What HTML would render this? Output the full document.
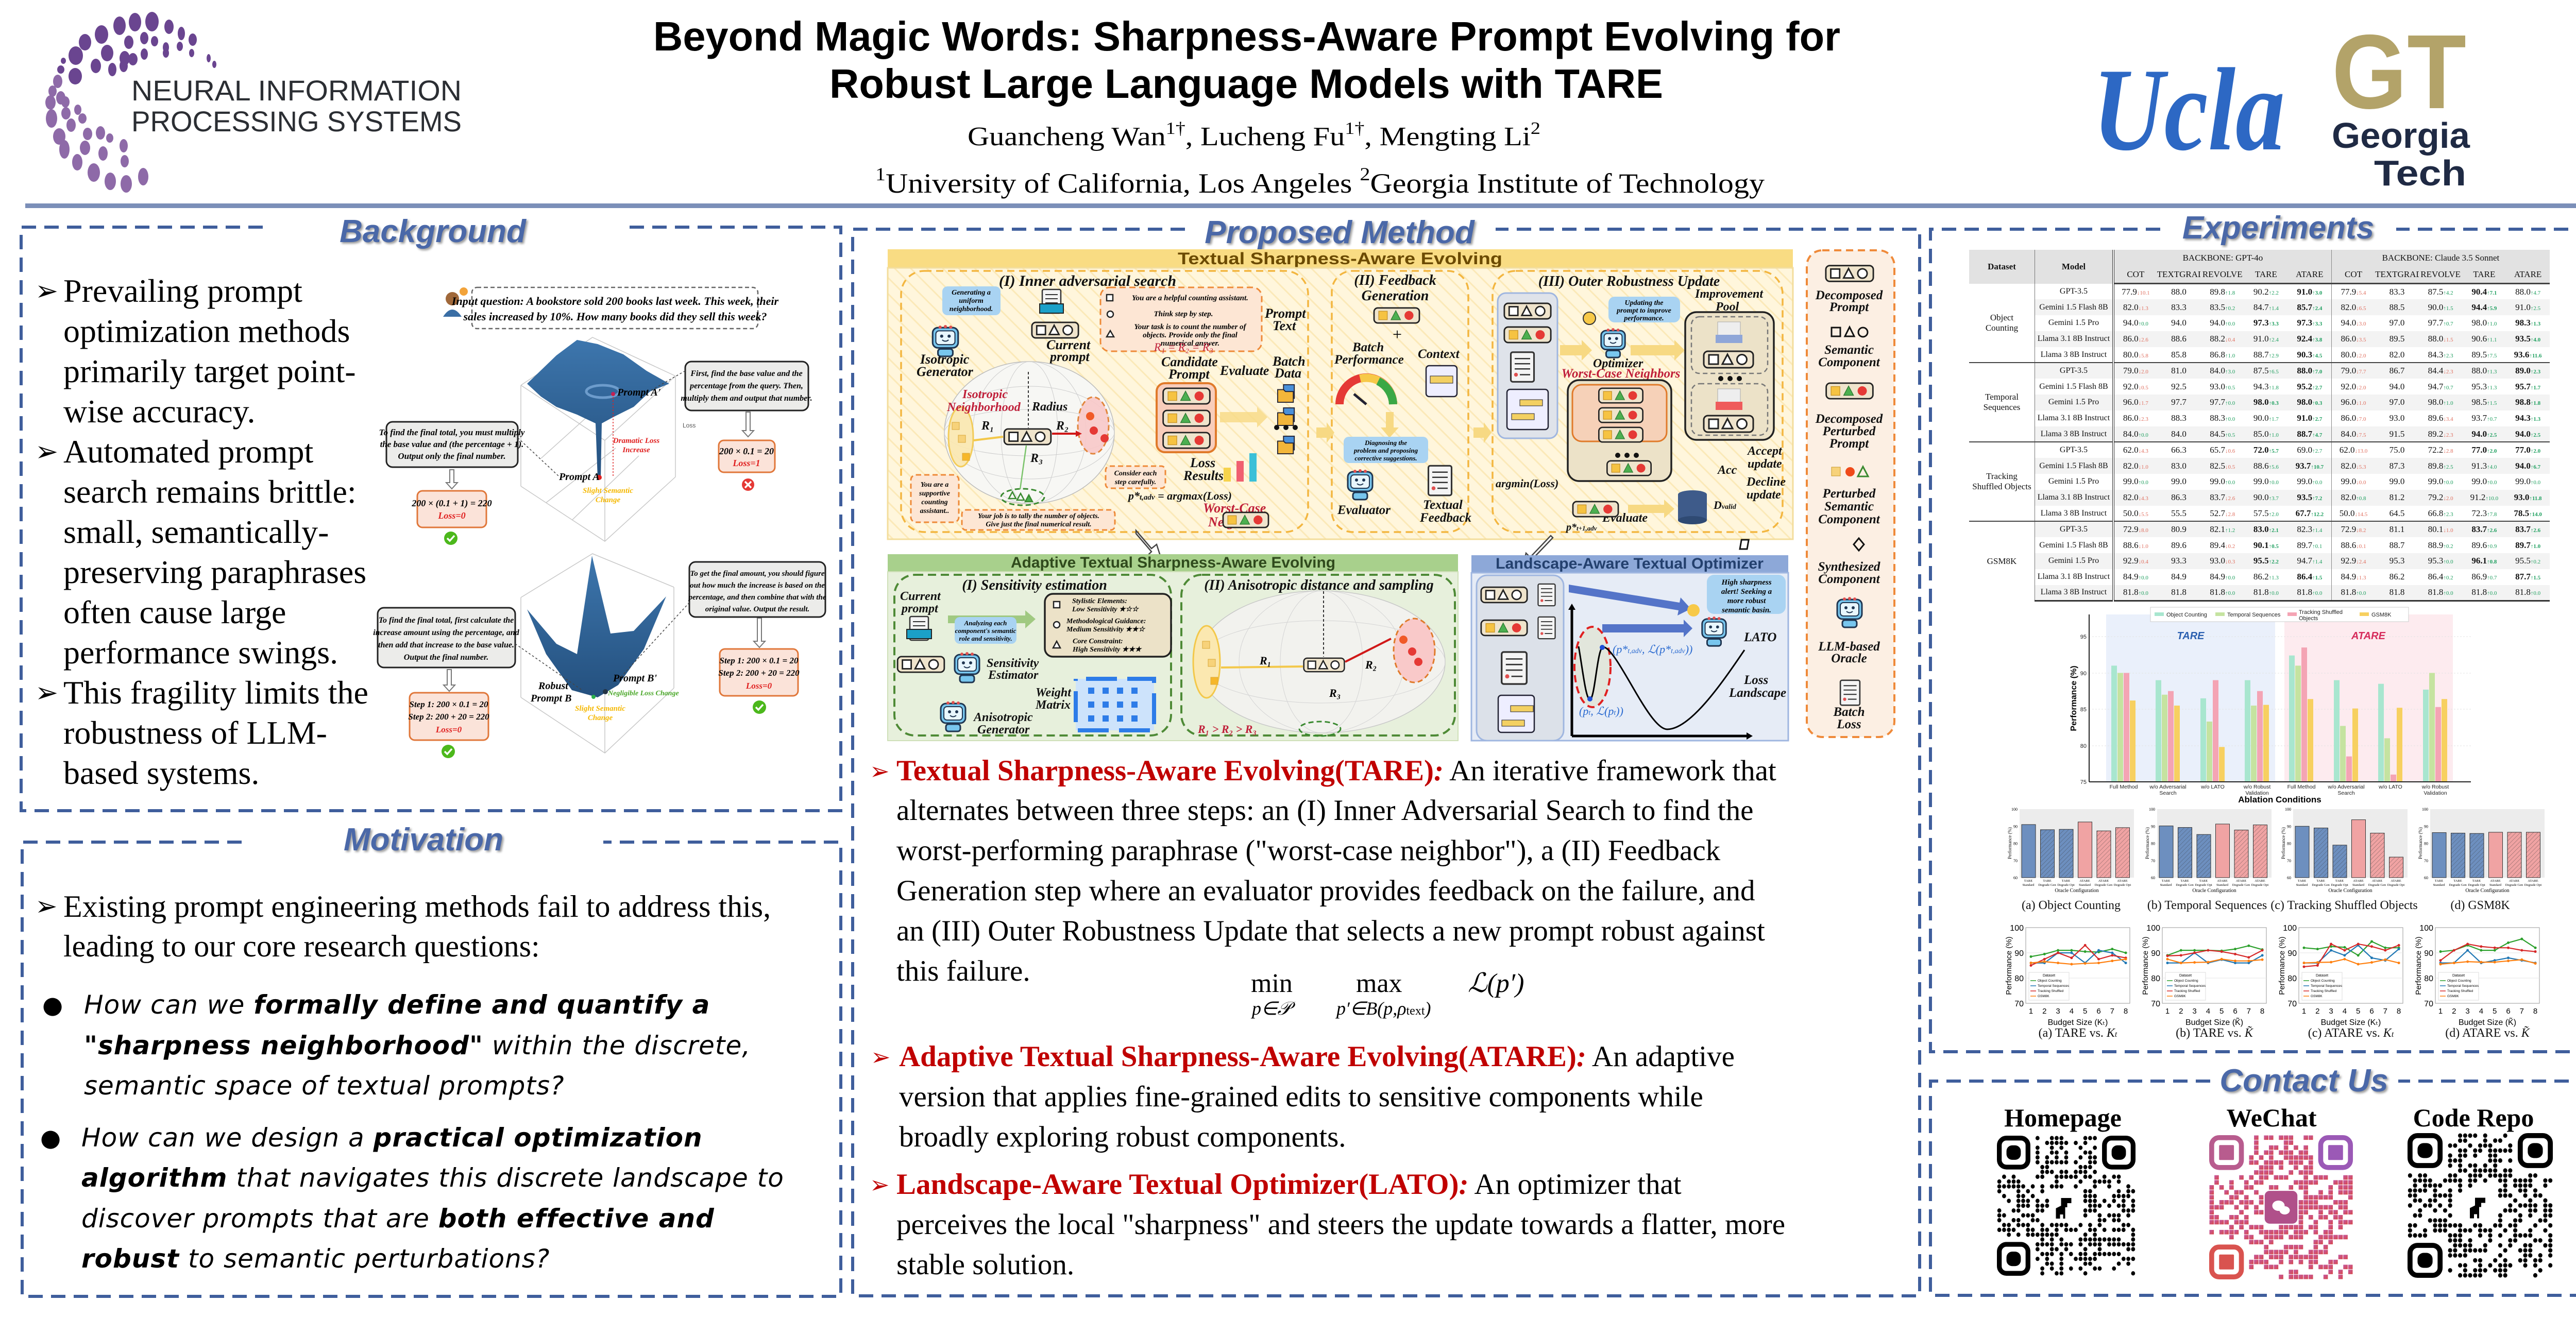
<!DOCTYPE html>
<html><head><meta charset="utf-8">
<style>
html,body{margin:0;padding:0;background:#fff;}
body{width:5120px;height:2559px;position:relative;overflow:hidden;font-family:"Liberation Serif",serif;}
.a{position:absolute;white-space:nowrap;}
.ln{position:absolute;white-space:nowrap;height:78px;line-height:78px;}
.bg{font-family:"Liberation Serif",serif;font-size:64px;color:#000;}
.mo{font-family:"Liberation Serif",serif;font-size:60px;color:#000;}
.q{font-family:"DejaVu Sans",sans-serif;font-style:italic;font-size:50px;letter-spacing:1px;color:#000;}
.q b{font-weight:bold;}
.me{font-family:"Liberation Serif",serif;font-size:57px;color:#000;}
.red{color:#c00000;font-weight:bold;}
.arr{font-family:"DejaVu Sans",sans-serif;}
table.t{position:absolute;left:3822px;top:485px;width:1127px;border-collapse:collapse;table-layout:fixed;font-family:"Liberation Serif",serif;font-size:17px;color:#111;}
table.t td,table.t th{padding:0;text-align:center;white-space:nowrap;overflow:hidden;}
table.t thead th{background:#e2e2e2;font-weight:normal;height:32px;font-size:17px;}
table.t thead tr:last-child th{border-bottom:3px solid #444;}
table.t tbody tr{height:30.8px;}
table.t tbody tr:nth-child(even) td.v,table.t tbody tr:nth-child(even) td.m{background:#f3f3f3;}
table.t td.m{font-size:16px;border-right:4px double #333;}
table.t td.ds{font-size:17px;line-height:20px;border-right:1px solid #777;}
table.t tr.g td{border-top:2px solid #444;}
table.t tr.last td{border-bottom:3px solid #333;}
table.t .c1{border-left:1px solid #888;}
i.d{font-style:normal;font-size:11px;color:#e07060;}
i.u{font-style:normal;font-size:11px;color:#20a060;}
.b{font-weight:bold;}
</style></head>
<body>
<svg class="a" style="left:0;top:0" width="5120" height="2559" viewBox="0 0 5120 2559" xmlns="http://www.w3.org/2000/svg">
<defs>
 <symbol id="pb" viewBox="0 0 100 36"><rect x="2" y="2" width="96" height="32" rx="8" fill="#efe4cc" stroke="#222" stroke-width="3"/><rect x="12" y="9" width="18" height="18" fill="#fff" stroke="#222" stroke-width="3"/><polygon points="48,8 58,27 38,27" fill="#fff" stroke="#222" stroke-width="3"/><circle cx="76" cy="18" r="9.5" fill="#fff" stroke="#222" stroke-width="3"/></symbol>
 <symbol id="pc" viewBox="0 0 100 36"><rect x="2" y="2" width="96" height="32" rx="8" fill="#efe4cc" stroke="#222" stroke-width="3"/><rect x="12" y="9" width="18" height="18" fill="#f6c342" stroke="#c9962a" stroke-width="1.5"/><polygon points="48,8 58,27 38,27" fill="#4caf50" stroke="#2e7d32" stroke-width="1.5"/><circle cx="76" cy="18" r="9.5" fill="#e53935"/></symbol>
 <symbol id="rb" viewBox="0 0 60 64"><rect x="6" y="6" width="48" height="38" rx="10" fill="#78c6ee" stroke="#1f3550" stroke-width="3"/><rect x="12" y="12" width="36" height="26" rx="6" fill="#e8f6fd" stroke="#1f3550" stroke-width="2"/><circle cx="23" cy="22" r="3" fill="#1f3550"/><circle cx="37" cy="22" r="3" fill="#1f3550"/><path d="M24 29 q6 5 12 0" stroke="#1f3550" stroke-width="2" fill="none"/><rect x="16" y="46" width="28" height="14" rx="5" fill="#78c6ee" stroke="#1f3550" stroke-width="3"/><circle cx="20" cy="5" r="3" fill="#e05050"/><circle cx="30" cy="4" r="3" fill="#e05050"/><circle cx="40" cy="5" r="3" fill="#e05050"/></symbol>
 <symbol id="doc" viewBox="0 0 40 50"><rect x="2" y="2" width="36" height="46" rx="3" fill="#f4f4f4" stroke="#333" stroke-width="2.5"/><line x1="8" y1="12" x2="32" y2="12" stroke="#333" stroke-width="2"/><line x1="8" y1="20" x2="32" y2="20" stroke="#333" stroke-width="2"/><line x1="8" y1="28" x2="32" y2="28" stroke="#333" stroke-width="2"/><circle cx="10" cy="37" r="3" fill="#e05050"/><line x1="16" y1="37" x2="32" y2="37" stroke="#333" stroke-width="2"/></symbol>
 <symbol id="fold" viewBox="0 0 40 40"><rect x="14" y="2" width="22" height="28" fill="#4a90d9" stroke="#223" stroke-width="2"/><path d="M2 12 h12 l4 4 h16 v22 h-32 z" fill="#f3b63a" stroke="#223" stroke-width="2"/></symbol>
 <pattern id="hat" width="6" height="6" patternUnits="userSpaceOnUse" patternTransform="rotate(45)"><line x1="0" y1="0" x2="0" y2="6" stroke="#333" stroke-width="1"/></pattern>
 <pattern id="str" width="22" height="22" patternUnits="userSpaceOnUse" patternTransform="rotate(-45)"><rect width="22" height="22" fill="#fff6dc"/><line x1="0" y1="0" x2="0" y2="22" stroke="#fbe9b8" stroke-width="6"/></pattern>
 <linearGradient id="surf" x1="0" y1="0" x2="0" y2="1"><stop offset="0" stop-color="#3d76ad"/><stop offset="1" stop-color="#24507e"/></linearGradient>
 <linearGradient id="wg" x1="0" y1="0" x2="1" y2="1"><stop offset="0" stop-color="#c35aa6"/><stop offset="1" stop-color="#d94848"/></linearGradient>
</defs>

<!-- NeurIPS logo dots -->
<g fill="#6a4590">
 <ellipse cx="262" cy="43" rx="12" ry="18"/><ellipse cx="295" cy="42" rx="13" ry="19"/><ellipse cx="328" cy="52" rx="9" ry="14"/><ellipse cx="352" cy="65" rx="7" ry="13"/><ellipse cx="374" cy="77" rx="8" ry="12"/>
 <ellipse cx="232" cy="50" rx="12" ry="18"/><ellipse cx="197" cy="67" rx="13" ry="18"/><ellipse cx="165" cy="82" rx="12" ry="16"/><ellipse cx="147" cy="108" rx="14" ry="18"/>
 <ellipse cx="250" cy="82" rx="9" ry="13"/><ellipse cx="280" cy="74" rx="8" ry="12"/><ellipse cx="300" cy="80" rx="7" ry="10"/><ellipse cx="322" cy="92" rx="6" ry="10"/><ellipse cx="349" cy="90" rx="6" ry="9"/>
 <ellipse cx="208" cy="103" rx="12" ry="16"/><ellipse cx="242" cy="113" rx="10" ry="14"/><ellipse cx="258" cy="115" rx="9" ry="12"/><ellipse cx="280" cy="105" rx="7" ry="11"/><ellipse cx="322" cy="103" rx="6" ry="9"/><ellipse cx="372" cy="103" rx="5" ry="8"/><ellipse cx="405" cy="113" rx="4" ry="8"/><ellipse cx="416" cy="125" rx="4" ry="7"/>
 <ellipse cx="186" cy="128" rx="10" ry="14"/><ellipse cx="218" cy="135" rx="8" ry="13"/><ellipse cx="240" cy="128" rx="8" ry="12"/><ellipse cx="146" cy="148" rx="13" ry="16"/><ellipse cx="123" cy="118" rx="5" ry="6"/><ellipse cx="118" cy="135" rx="7" ry="8"/>
</g>
<g fill="#8e6aa8">
 <ellipse cx="112" cy="158" rx="9" ry="13"/><ellipse cx="102" cy="177" rx="8" ry="11"/><ellipse cx="118" cy="190" rx="9" ry="13"/><ellipse cx="98" cy="199" rx="10" ry="14"/><ellipse cx="127" cy="198" rx="8" ry="11"/>
 <ellipse cx="100" cy="230" rx="11" ry="18"/><ellipse cx="128" cy="220" rx="9" ry="12"/><ellipse cx="151" cy="213" rx="7" ry="10"/><ellipse cx="160" cy="230" rx="8" ry="10"/><ellipse cx="138" cy="243" rx="9" ry="13"/>
 <ellipse cx="115" cy="265" rx="12" ry="16"/><ellipse cx="170" cy="260" rx="9" ry="12"/><ellipse cx="195" cy="258" rx="9" ry="13"/><ellipse cx="213" cy="268" rx="7" ry="9"/>
 <ellipse cx="125" cy="290" rx="10" ry="18"/><ellipse cx="165" cy="287" rx="10" ry="14"/><ellipse cx="200" cy="298" rx="9" ry="14"/><ellipse cx="240" cy="283" rx="8" ry="13"/><ellipse cx="242" cy="313" rx="8" ry="12"/>
 <ellipse cx="150" cy="315" rx="10" ry="16"/><ellipse cx="182" cy="335" rx="12" ry="18"/><ellipse cx="214" cy="352" rx="11" ry="17"/><ellipse cx="245" cy="357" rx="11" ry="17"/><ellipse cx="278" cy="343" rx="10" ry="17"/>
</g>
<text x="255" y="195" font-family="Liberation Sans,sans-serif" font-size="56" fill="#2b2e33" textLength="641" lengthAdjust="spacingAndGlyphs">NEURAL INFORMATION</text>
<text x="255" y="255" font-family="Liberation Sans,sans-serif" font-size="56" fill="#2b2e33" textLength="641" lengthAdjust="spacingAndGlyphs">PROCESSING SYSTEMS</text>

<!-- Title -->
<text x="2420" y="98" text-anchor="middle" font-family="Liberation Sans,sans-serif" font-weight="bold" font-size="80" textLength="2304" lengthAdjust="spacingAndGlyphs">Beyond Magic Words: Sharpness-Aware Prompt Evolving for</text>
<text x="2419" y="190" text-anchor="middle" font-family="Liberation Sans,sans-serif" font-weight="bold" font-size="80" textLength="1618" lengthAdjust="spacingAndGlyphs">Robust Large Language Models with TARE</text>
<text x="2434" y="282" text-anchor="middle" font-family="Liberation Serif,serif" font-size="52" textLength="1112" lengthAdjust="spacingAndGlyphs">Guancheng Wan<tspan font-size="34" dy="-22">1†</tspan><tspan dy="22">,  Lucheng Fu</tspan><tspan font-size="34" dy="-22">1†</tspan><tspan dy="22">, Mengting Li</tspan><tspan font-size="34" dy="-22">2</tspan></text>
<text x="2562" y="374" text-anchor="middle" font-family="Liberation Serif,serif" font-size="54" textLength="1726" lengthAdjust="spacingAndGlyphs"><tspan font-size="36" dy="-24">1</tspan><tspan dy="24">University of California, Los Angeles     </tspan><tspan font-size="36" dy="-24">2</tspan><tspan dy="24">Georgia Institute of Technology</tspan></text>

<!-- UCLA / GT -->
<text x="4062" y="290" font-family="Liberation Serif,serif" font-style="italic" font-weight="bold" font-size="230" fill="#2d68c4" textLength="373" lengthAdjust="spacingAndGlyphs">Ucla</text>
<text x="4526" y="210" font-family="Liberation Sans,sans-serif" font-weight="bold" font-size="205" fill="#b3a369" textLength="261" lengthAdjust="spacingAndGlyphs">GT</text>
<text x="4526" y="287" font-family="Liberation Sans,sans-serif" font-weight="bold" font-size="70" fill="#1f2a44" textLength="268" lengthAdjust="spacingAndGlyphs">Georgia</text>
<text x="4608" y="360" font-family="Liberation Sans,sans-serif" font-weight="bold" font-size="70" fill="#1f2a44" textLength="179" lengthAdjust="spacingAndGlyphs">Tech</text>

<!-- blue rule -->
<rect x="49" y="395" width="5060" height="9" fill="#7b8fb8"/>

<!-- Section boxes -->
<g fill="none" stroke="#3f5e9c" stroke-width="6" stroke-dasharray="28 16">
 <path d="M510 441 H41 V1574 H1632 V441 H1215"/>
 <path d="M469 1635 H43 V2517 H1632 V1635 H1171"/>
 <path d="M2300 445 H1655 V2516 H3726 V445 H2903"/>
 <path d="M4193 445 H3747 V2042 H5076 V445 H4651"/>
 <path d="M4290 2099 H3747 V2515 H5087 V2099 H4655"/>
</g>
<g font-family="Liberation Sans,sans-serif" font-weight="bold" font-style="italic" font-size="62" fill="#4a68a8" text-anchor="middle" style="text-shadow:3px 3px 4px rgba(0,0,0,.4)">
 <text x="840" y="470">Background</text>
 <text x="822" y="1651">Motivation</text>
 <text x="2600" y="472">Proposed Method</text>
 <text x="4422" y="463">Experiments</text>
 <text x="4472" y="2119">Contact Us</text>
</g>

<!-- ========== Background figure ========== -->
<g font-family="Liberation Serif,serif" font-style="italic" font-weight="bold">
 <circle cx="878" cy="580" r="13" fill="#a0683a"/><path d="M860 615 q18 -28 36 0 z" fill="#3a6ea5"/><circle cx="900" cy="566" r="8" fill="#f2a33a"/>
 <rect x="916" y="558" width="555" height="80" rx="10" fill="#fff" stroke="#666" stroke-width="2.5" stroke-dasharray="8 5"/>
 <text x="1194" y="592" text-anchor="middle" font-size="22">Input question: A bookstore sold 200 books last week. This week, their</text>
 <text x="1194" y="622" text-anchor="middle" font-size="22">sales increased by 10%. How many books did they sell this week?</text>
 <g stroke="#c8c8c8" stroke-width="1.5" fill="none">
  <path d="M1011 944 L1174 1051 L1311 926 M1011 944 V748 M1174 1051 V855 M1311 926 V730 M1011 748 L1174 855 L1311 730 M1011 748 L1150 655 L1311 730"/>
  <path d="M1060 976 L1195 870 M1110 1010 L1240 885 M1050 890 L1150 800"/>
 </g>
 <path d="M1023 745 L1080 690 L1120 660 L1160 668 L1210 688 L1255 720 L1299 745 L1262 760 L1230 790 L1190 810 L1168 822 L1166 929 L1160 929 L1156 822 L1120 805 L1080 790 L1050 770 Z" fill="url(#surf)"/>
 <ellipse cx="1170" cy="760" rx="32" ry="12" fill="none" stroke="#6d9ccc" stroke-width="5"/>
 <circle cx="1163" cy="927" r="5" fill="#e02020"/><circle cx="1190" cy="765" r="4" fill="#c0205a"/>
 <line x1="1190" y1="765" x2="1190" y2="927" stroke="#e02020" stroke-width="1.5" stroke-dasharray="3 3"/>
 <text x="1198" y="768" font-size="20">Prompt A'</text>
 <text x="1085" y="932" font-size="20">Prompt A</text>
 <text x="1235" y="860" font-size="15" fill="#e02020" text-anchor="middle">Dramatic Loss</text>
 <text x="1235" y="878" font-size="15" fill="#e02020" text-anchor="middle">Increase</text>
 <text x="1180" y="957" font-size="15" fill="#f5b800" text-anchor="middle">Slight Semantic</text>
 <text x="1180" y="975" font-size="15" fill="#f5b800" text-anchor="middle">Change</text>
 <text x="1325" y="830" font-size="12" font-weight="normal" font-style="normal" font-family="Liberation Sans,sans-serif" fill="#555">Loss</text>
 <rect x="750" y="819" width="255" height="88" rx="12" fill="#ececea" stroke="#222" stroke-width="3"/>
 <text x="877" y="845" text-anchor="middle" font-size="17">To find the final total, you must multiply</text>
 <text x="877" y="868" text-anchor="middle" font-size="17">the base value and (the percentage + 1).</text>
 <text x="877" y="891" text-anchor="middle" font-size="17">Output only the final number.</text>
 <rect x="810" y="953" width="134" height="71" rx="10" fill="#fbe3d9" stroke="#e0773a" stroke-width="3"/>
 <text x="877" y="983" text-anchor="middle" font-size="18">200 × (0.1 + 1) = 220</text>
 <text x="877" y="1007" text-anchor="middle" font-size="18" fill="#e02020">Loss=0</text>
 <circle cx="875" cy="1045" r="13" fill="#4cb81c"/><path d="M868 1045 l5 5 l9 -10" stroke="#fff" stroke-width="3.5" fill="none"/>
 <rect x="1330" y="702" width="239" height="95" rx="12" fill="#ececea" stroke="#222" stroke-width="3"/>
 <text x="1449" y="730" text-anchor="middle" font-size="16">First, find the base value and the</text>
 <text x="1449" y="754" text-anchor="middle" font-size="16">percentage from the query. Then,</text>
 <text x="1449" y="778" text-anchor="middle" font-size="16">multiply them and output that number.</text>
 <rect x="1395" y="855" width="109" height="62" rx="10" fill="#fbe3d9" stroke="#e0773a" stroke-width="3"/>
 <text x="1449" y="882" text-anchor="middle" font-size="18">200 × 0.1 = 20</text>
 <text x="1449" y="905" text-anchor="middle" font-size="18" fill="#e02020">Loss=1</text>
 <circle cx="1452" cy="941" r="12" fill="#e53935"/><path d="M1446 935 l12 12 M1458 935 l-12 12" stroke="#fff" stroke-width="3.5"/>
 <g stroke="#777" stroke-width="2" fill="#fff"><path d="M873 912 v25 h-7 l11 12 l11 -12 h-7 v-25z"/><path d="M1448 800 v36 h-7 l11 12 l11 -12 h-7 v-36z"/><path d="M868 1300 v30 h-7 l11 12 l11 -12 h-7 v-30z"/><path d="M1470 1200 v45 h-7 l11 12 l11 -12 h-7 v-45z"/></g>
 <g stroke="#c8c8c8" stroke-width="1.5" fill="none">
  <path d="M1011 1354 L1174 1462 L1308 1336 M1011 1354 V1160 M1174 1462 V1260 M1308 1336 V1140 M1011 1160 L1150 1075 L1308 1140"/>
 </g>
 <path d="M1023 1183 L1080 1250 L1120 1270 L1149 1079 L1185 1230 L1230 1225 L1293 1158 L1250 1260 L1200 1330 L1160 1354 L1110 1340 L1060 1270 Z" fill="url(#surf)"/>
 <circle cx="1152" cy="1353" r="4" fill="#2ab04a"/><circle cx="1175" cy="1343" r="5" fill="#234"/>
 <text x="1045" y="1338" font-size="20">Robust</text>
 <text x="1030" y="1362" font-size="20">Prompt B</text>
 <text x="1190" y="1323" font-size="20">Prompt B'</text>
 <text x="1180" y="1350" font-size="14" fill="#4ba82a">Negligible Loss Change</text>
 <text x="1165" y="1380" font-size="15" fill="#f5b800" text-anchor="middle">Slight Semantic</text>
 <text x="1165" y="1398" font-size="15" fill="#f5b800" text-anchor="middle">Change</text>
 <rect x="733" y="1180" width="267" height="116" rx="12" fill="#ececea" stroke="#222" stroke-width="3"/>
 <text x="866" y="1209" text-anchor="middle" font-size="16">To find the final total, first calculate the</text>
 <text x="866" y="1233" text-anchor="middle" font-size="16">increase amount using the percentage, and</text>
 <text x="866" y="1257" text-anchor="middle" font-size="16">then add that increase to the base value.</text>
 <text x="866" y="1281" text-anchor="middle" font-size="16">Output the final number.</text>
 <rect x="795" y="1345" width="153" height="92" rx="10" fill="#fbe3d9" stroke="#e0773a" stroke-width="3"/>
 <text x="871" y="1373" text-anchor="middle" font-size="17">Step 1: 200 × 0.1 = 20</text>
 <text x="871" y="1397" text-anchor="middle" font-size="17">Step 2: 200 + 20 = 220</text>
 <text x="871" y="1422" text-anchor="middle" font-size="17" fill="#e02020">Loss=0</text>
 <circle cx="870" cy="1459" r="13" fill="#4cb81c"/><path d="M863 1459 l5 5 l9 -10" stroke="#fff" stroke-width="3.5" fill="none"/>
 <rect x="1338" y="1091" width="264" height="107" rx="12" fill="#ececea" stroke="#222" stroke-width="3"/>
 <text x="1470" y="1118" text-anchor="middle" font-size="15">To get the final amount, you should figure</text>
 <text x="1470" y="1141" text-anchor="middle" font-size="15">out how much the increase is based on the</text>
 <text x="1470" y="1164" text-anchor="middle" font-size="15">percentage, and then combine that with the</text>
 <text x="1470" y="1187" text-anchor="middle" font-size="15">original value. Output the result.</text>
 <rect x="1397" y="1260" width="152" height="91" rx="10" fill="#fbe3d9" stroke="#e0773a" stroke-width="3"/>
 <text x="1473" y="1288" text-anchor="middle" font-size="17">Step 1: 200 × 0.1 = 20</text>
 <text x="1473" y="1312" text-anchor="middle" font-size="17">Step 2: 200 + 20 = 220</text>
 <text x="1473" y="1337" text-anchor="middle" font-size="17" fill="#e02020">Loss=0</text>
 <circle cx="1474" cy="1373" r="13" fill="#4cb81c"/><path d="M1467 1373 l5 5 l9 -10" stroke="#fff" stroke-width="3.5" fill="none"/>
 <g stroke="#444" stroke-width="1.5" stroke-dasharray="4 4"><line x1="1005" y1="850" x2="1085" y2="925"/><line x1="1330" y1="720" x2="1260" y2="760"/><line x1="1000" y1="1250" x2="1130" y2="1340"/><line x1="1338" y1="1170" x2="1200" y2="1320"/></g>
</g>

<!-- ========== Method figure ========== -->
<rect x="1723" y="484" width="1757" height="36" fill="#f9dc83"/>
<text x="2601" y="513" text-anchor="middle" font-family="Liberation Sans,sans-serif" font-weight="bold" font-size="32" fill="#6b4a00" textLength="630" lengthAdjust="spacingAndGlyphs">Textual Sharpness-Aware Evolving</text>
<rect x="1723" y="520" width="1757" height="527" fill="url(#str)" stroke="#f3dd9c" stroke-width="3"/>
<g fill="none" stroke="#f3b640" stroke-width="3.5" stroke-dasharray="14 9">
 <rect x="1749" y="526" width="790" height="507" rx="45"/>
 <rect x="2585" y="526" width="265" height="507" rx="40"/>
 <rect x="2897" y="526" width="563" height="507" rx="45"/>
</g>
<g font-family="Liberation Serif,serif" font-style="italic" font-weight="bold" fill="#111">
 <text x="2111" y="555" text-anchor="middle" font-size="30">(I) Inner adversarial search</text>
 <text x="2708" y="553" text-anchor="middle" font-size="28">(II) Feedback</text>
 <text x="2708" y="583" text-anchor="middle" font-size="28">Generation</text>
 <text x="3162" y="555" text-anchor="middle" font-size="28">(III) Outer Robustness Update</text>
</g>
<rect x="1829" y="556" width="113" height="56" rx="10" fill="#a9d3f2"/>
<g font-family="Liberation Serif,serif" font-style="italic" font-weight="bold" font-size="14" text-anchor="middle"><text x="1885" y="572">Generating a</text><text x="1885" y="588">uniform</text><text x="1885" y="604">neighborhood.</text></g>
<use href="#rb" x="1800" y="630" width="70" height="66"/>
<use href="#doc" x="2020" y="560" width="42" height="50"/><rect x="2018" y="590" width="46" height="18" fill="#1ba0c8" stroke="#222" stroke-width="2"/>
<use href="#pb" x="2001" y="624" width="94" height="34"/>
<rect x="2136" y="558" width="313" height="124" rx="18" fill="#fde6d4" stroke="#ee8a38" stroke-width="3" stroke-dasharray="12 7"/>
<g font-family="Liberation Serif,serif" font-style="italic" font-weight="bold" font-size="15" text-anchor="middle"><text x="2310" y="583">You are a helpful counting assistant.</text><text x="2297" y="614">Think step by step.</text><text x="2310" y="639">Your task is to count the number of</text><text x="2310" y="655">objects. Provide only the final</text><text x="2310" y="671">numerical answer.</text></g>
<rect x="2148" y="572" width="12" height="12" fill="#fff" stroke="#222" stroke-width="2.5"/><circle cx="2155" cy="610" r="6" fill="#fff" stroke="#222" stroke-width="2.5"/><polygon points="2155,642 2162,654 2148,654" fill="#fff" stroke="#222" stroke-width="2.5"/>
<g font-family="Liberation Serif,serif" font-style="italic" font-weight="bold" font-size="26" fill="#111">
 <text x="2031" y="678">Current</text><text x="2038" y="701">prompt</text>
 <text x="1786" y="706">Isotropic</text><text x="1779" y="730">Generator</text>
 <text x="2455" y="617">Prompt</text><text x="2470" y="641">Text</text>
 <text x="2254" y="711">Candidate</text><text x="2268" y="735">Prompt</text>
 <text x="2368" y="728">Evaluate</text><text x="2470" y="710">Batch</text><text x="2474" y="733">Data</text>
 <text x="2310" y="907">Loss</text><text x="2297" y="932">Results</text>
 <text x="2190" y="970" font-size="22">p*<tspan font-size="15">t,adv</tspan> = argmax(Loss)</text>
</g>
<text x="2240" y="681" font-family="Liberation Serif,serif" font-style="italic" font-size="22" fill="#c0203a">R₁ = R₂ = R₃</text>
<ellipse cx="1998" cy="840" rx="165" ry="138" fill="#f7f7f4" stroke="#bbb" stroke-width="1.5"/>
<g fill="none" stroke="#ccc" stroke-width="1"><ellipse cx="1998" cy="840" rx="110" ry="138"/><ellipse cx="1998" cy="840" rx="55" ry="138"/><ellipse cx="1998" cy="840" rx="165" ry="90"/><ellipse cx="1998" cy="840" rx="165" ry="45"/></g>
<line x1="1996" y1="722" x2="1996" y2="831" stroke="#333" stroke-width="2" stroke-dasharray="5 4"/>
<ellipse cx="2122" cy="826" rx="30" ry="55" fill="#f9c9c9" stroke="#e07a2a" stroke-width="3" stroke-dasharray="10 6" opacity=".9"/>
<circle cx="2116" cy="808" r="8" fill="#f05a28"/><circle cx="2123" cy="836" r="8" fill="#e53935"/><circle cx="2144" cy="851" r="8" fill="#e53935"/>
<ellipse cx="1865" cy="848" rx="24" ry="58" fill="#fbe8b0" stroke="#f3c84a" stroke-width="3" opacity=".9"/>
<rect x="1848" y="820" width="14" height="14" fill="#f7d27a" stroke="#d9a83a"/><rect x="1860" y="845" width="14" height="14" fill="#f7d27a" stroke="#d9a83a"/><rect x="1868" y="880" width="14" height="14" fill="#f6b72a" stroke="#d9a83a"/>
<ellipse cx="1985" cy="965" rx="42" ry="16" fill="none" stroke="#3a8a30" stroke-width="3" stroke-dasharray="10 6"/>
<g fill="none" stroke="#3a8a30" stroke-width="2.5"><polygon points="1965,955 1972,968 1958,968"/><polygon points="1981,958 1988,971 1974,971"/><polygon points="1997,961 2004,974 1990,974" fill="#4caf50"/></g>
<use href="#pb" x="1947" y="831" width="95" height="34"/>
<line x1="2042" y1="842" x2="2088" y2="842" stroke="#d01818" stroke-width="4"/><polygon points="2088,836 2100,842 2088,848" fill="#d01818"/>
<line x1="1947" y1="848" x2="1890" y2="855" stroke="#f3c84a" stroke-width="4"/>
<line x1="1992" y1="865" x2="1980" y2="950" stroke="#7ac36a" stroke-width="2.5"/>
<g font-family="Liberation Serif,serif" font-style="italic" font-weight="bold" font-size="24"><text x="1868" y="773" fill="#c0203a">Isotropic</text><text x="1838" y="798" fill="#c0203a">Neighborhood</text><text x="2003" y="797" fill="#111">Radius</text><text x="1905" y="834" fill="#111">R₁</text><text x="2050" y="834" fill="#111">R₂</text><text x="2000" y="897" fill="#111">R₃</text></g>
<rect x="1768" y="922" width="93" height="92" rx="10" fill="#fde6d4" stroke="#ee8a38" stroke-width="3" stroke-dasharray="10 6"/>
<g font-family="Liberation Serif,serif" font-style="italic" font-weight="bold" font-size="14" text-anchor="middle"><text x="1814" y="945">You are a</text><text x="1814" y="962">supportive</text><text x="1814" y="979">counting</text><text x="1814" y="996">assistant..</text></g>
<rect x="2146" y="905" width="116" height="43" rx="8" fill="#fde6d4" stroke="#ee8a38" stroke-width="3" stroke-dasharray="10 6"/>
<g font-family="Liberation Serif,serif" font-style="italic" font-weight="bold" font-size="14" text-anchor="middle"><text x="2204" y="923">Consider each</text><text x="2204" y="940">step carefully.</text></g>
<rect x="1867" y="990" width="297" height="39" rx="8" fill="#fde6d4" stroke="#ee8a38" stroke-width="3" stroke-dasharray="10 6"/>
<g font-family="Liberation Serif,serif" font-style="italic" font-weight="bold" font-size="14" text-anchor="middle"><text x="2016" y="1006">Your job is to tally the number of objects.</text><text x="2016" y="1022">Give just the final numerical result.</text></g>
<rect x="2245" y="744" width="115" height="134" rx="16" fill="#f8cdbb" stroke="#e07a2a" stroke-width="4"/>
<use href="#pc" x="2254" y="752" width="98" height="34"/><use href="#pc" x="2254" y="795" width="98" height="34"/><use href="#pc" x="2254" y="838" width="98" height="34"/>
<polygon points="2368,800 2440,800 2440,790 2460,810 2440,830 2440,820 2368,820" fill="#f7d983" opacity=".8"/>
<use href="#fold" x="2476" y="745" width="42" height="38"/><use href="#fold" x="2476" y="790" width="42" height="38"/><use href="#fold" x="2476" y="845" width="42" height="38"/>
<g fill="#111"><circle cx="2478" cy="830" r="5"/><circle cx="2496" cy="830" r="5"/><circle cx="2514" cy="830" r="5"/></g>
<rect x="2375" y="908" width="14" height="27" fill="#f6d34c"/><rect x="2400" y="895" width="14" height="40" fill="#f06070"/><rect x="2425" y="880" width="14" height="55" fill="#3ac0d8"/>
<text x="2335" y="995" font-family="Liberation Serif,serif" font-style="italic" font-weight="bold" font-size="26" fill="#c0203a">Worst-Case</text>
<text x="2345" y="1022" font-family="Liberation Serif,serif" font-style="italic" font-weight="bold" font-size="26" fill="#c0203a">Neighbor</text>
<use href="#pc" x="2372" y="993" width="92" height="33"/>
<polygon points="2555,830 2575,830 2575,820 2590,840 2575,860 2575,850 2555,850" fill="#f7d983"/>
<polygon points="2860,830 2880,830 2880,820 2895,840 2880,860 2880,850 2860,850" fill="#f7d983"/>
<use href="#pc" x="2665" y="596" width="92" height="33"/>
<text x="2712" y="660" text-anchor="middle" font-size="32">+</text>
<g font-family="Liberation Serif,serif" font-style="italic" font-weight="bold" font-size="25" fill="#111"><text x="2625" y="682">Batch</text><text x="2590" y="706">Performance</text><text x="2752" y="695">Context</text><text x="2596" y="998">Evaluator</text><text x="2762" y="988">Textual</text><text x="2756" y="1013">Feedback</text></g>
<path d="M2600 785 A52 52 0 0 1 2704 785" fill="none" stroke="#e53935" stroke-width="16"/><path d="M2640 735 A52 52 0 0 1 2704 785" fill="none" stroke="#f7c948" stroke-width="16"/><path d="M2675 740 A52 52 0 0 1 2704 785" fill="none" stroke="#3aa845" stroke-width="16"/>
<line x1="2652" y1="785" x2="2628" y2="765" stroke="#223" stroke-width="5"/>
<rect x="2768" y="710" width="60" height="60" rx="6" fill="#eef" stroke="#223" stroke-width="2.5"/><rect x="2776" y="730" width="44" height="14" fill="#f3d063" stroke="#223"/>
<polygon points="2690,800 2705,800 2705,830 2715,830 2697,850 2680,830 2690,830" fill="#f7d983"/>
<rect x="2608" y="848" width="164" height="51" rx="10" fill="#a9d3f2"/>
<g font-family="Liberation Serif,serif" font-style="italic" font-weight="bold" font-size="13" text-anchor="middle"><text x="2690" y="864">Diagnosing the</text><text x="2690" y="879">problem and proposing</text><text x="2690" y="894">corrective suggestions.</text></g>
<use href="#rb" x="2605" y="910" width="70" height="64"/>
<use href="#doc" x="2770" y="900" width="50" height="66"/>
<rect x="2907" y="569" width="116" height="282" rx="16" fill="#dfe3ea" stroke="#9fb6e0" stroke-width="3"/>
<use href="#pb" x="2918" y="587" width="94" height="34"/><use href="#pc" x="2918" y="633" width="94" height="34"/>
<use href="#doc" x="2930" y="680" width="50" height="65"/>
<rect x="2925" y="756" width="80" height="78" rx="6" fill="#eef" stroke="#223" stroke-width="2.5"/><rect x="2950" y="776" width="44" height="12" fill="#f3d063" stroke="#223"/><rect x="2934" y="803" width="44" height="12" fill="#f3d063" stroke="#223"/>
<rect x="3122" y="576" width="139" height="50" rx="12" fill="#a9d3f2"/>
<g font-family="Liberation Serif,serif" font-style="italic" font-weight="bold" font-size="14" text-anchor="middle"><text x="3191" y="592">Updating the</text><text x="3191" y="607">prompt to improve</text><text x="3191" y="622">performance.</text></g>
<circle cx="3085" cy="618" r="12" fill="#f7c948" stroke="#333" stroke-width="2"/>
<use href="#rb" x="3096" y="636" width="70" height="62"/>
<polygon points="3028,670 3070,670 3070,660 3090,680 3070,700 3070,690 3028,690" fill="#f7d983"/>
<polygon points="3165,670 3250,670 3250,660 3270,680 3250,700 3250,690 3165,690" fill="#f7d983"/>
<g font-family="Liberation Serif,serif" font-style="italic" font-weight="bold" font-size="24" fill="#111"><text x="3092" y="713">Optimizer</text><text x="3290" y="578">Improvement</text><text x="3330" y="603">Pool</text><text x="2903" y="946" font-size="22">argmin(Loss)</text><text x="3334" y="920">Acc</text><text x="3392" y="883">Accept</text><text x="3392" y="908">update</text><text x="3390" y="943">Decline</text><text x="3390" y="968">update</text><text x="3110" y="1013">Evaluate</text><text x="3326" y="988" font-size="22">D<tspan font-size="14">valid</tspan></text><text x="3040" y="1030" font-size="20">p*<tspan font-size="13">t+1,adv</tspan></text></g>
<text x="3146" y="733" text-anchor="middle" font-family="Liberation Serif,serif" font-style="italic" font-weight="bold" font-size="25" fill="#c0203a">Worst-Case Neighbors</text>
<rect x="3043" y="738" width="201" height="196" rx="22" fill="#ece2c8" stroke="#222" stroke-width="3.5"/>
<rect x="3052" y="747" width="183" height="110" rx="18" fill="#f6d1b8" stroke="#e07a2a" stroke-width="3"/>
<use href="#pc" x="3100" y="752" width="92" height="32"/><use href="#pc" x="3100" y="790" width="92" height="32"/><use href="#pc" x="3100" y="828" width="92" height="32"/>
<g fill="#111"><circle cx="3140" cy="884" r="5"/><circle cx="3158" cy="884" r="5"/><circle cx="3176" cy="884" r="5"/></g>
<use href="#pc" x="3116" y="893" width="92" height="32"/>
<rect x="3271" y="606" width="172" height="248" rx="22" fill="#ece2c8" stroke="#222" stroke-width="3.5"/>
<rect x="3283" y="615" width="148" height="110" rx="16" fill="none" stroke="#777" stroke-width="2.5" stroke-dasharray="9 6"/>
<rect x="3283" y="745" width="148" height="100" rx="16" fill="none" stroke="#777" stroke-width="2.5" stroke-dasharray="9 6"/>
<rect x="3334" y="625" width="44" height="40" fill="#eee" stroke="#aaa"/><rect x="3330" y="650" width="52" height="16" fill="#8fa6d8"/>
<rect x="3334" y="755" width="44" height="40" fill="#eee" stroke="#aaa"/><rect x="3330" y="780" width="52" height="16" fill="#ef5b5b"/>
<use href="#pb" x="3300" y="680" width="110" height="36"/><use href="#pb" x="3300" y="805" width="110" height="36"/>
<g fill="#111"><circle cx="3340" cy="735" r="5"/><circle cx="3358" cy="735" r="5"/><circle cx="3376" cy="735" r="5"/></g>
<use href="#pc" x="3036" y="972" width="122" height="33"/>
<polygon points="3160,980 3230,980 3230,970 3250,988 3230,1006 3230,996 3160,996" fill="#f7d983"/>
<ellipse cx="3285" cy="960" rx="28" ry="8" fill="#3e5b8a"/><rect x="3257" y="960" width="56" height="50" fill="#3e5b8a"/><ellipse cx="3285" cy="1010" rx="28" ry="8" fill="#2f4a73"/>
<rect x="3507" y="486" width="170" height="945" rx="30" fill="#fcefe3" stroke="#ef8a3a" stroke-width="4" stroke-dasharray="14 9"/>
<use href="#pb" x="3542" y="513" width="96" height="36"/>
<g fill="none" stroke="#111" stroke-width="3"><rect x="3555" y="636" width="17" height="17"/><polygon points="3590,635 3599,653 3581,653"/><circle cx="3616" cy="645" r="9"/></g>
<use href="#pc" x="3542" y="742" width="96" height="34"/>
<rect x="3555" y="907" width="17" height="17" fill="#f7d27a" stroke="#c99a2a"/><circle cx="3591" cy="916" r="9" fill="#ef4a1a"/><polygon points="3616,906 3626,925 3606,925" fill="none" stroke="#3a8a30" stroke-width="3"/>
<rect x="3565" y="1048" width="14" height="18" fill="none" stroke="#111" stroke-width="3" transform="skewX(-10)"/><polygon points="3608,1045 3618,1057 3608,1069 3598,1057" fill="none" stroke="#111" stroke-width="3"/>
<use href="#rb" x="3558" y="1158" width="64" height="64"/>
<use href="#doc" x="3570" y="1318" width="42" height="54"/>
<g font-family="Liberation Serif,serif" font-style="italic" font-weight="bold" font-size="25" fill="#111" text-anchor="middle">
 <text x="3589" y="581">Decomposed</text><text x="3589" y="604">Prompt</text>
 <text x="3589" y="687">Semantic</text><text x="3589" y="711">Component</text>
 <text x="3589" y="821">Decomposed</text><text x="3589" y="845">Perturbed</text><text x="3589" y="869">Prompt</text>
 <text x="3589" y="966">Perturbed</text><text x="3589" y="991">Semantic</text><text x="3589" y="1016">Component</text>
 <text x="3589" y="1108">Synthesized</text><text x="3589" y="1132">Component</text>
 <text x="3589" y="1263">LLM-based</text><text x="3589" y="1286">Oracle</text>
 <text x="3589" y="1390">Batch</text><text x="3589" y="1414">Loss</text>
</g>
<g fill="#fff" stroke="#444" stroke-width="2.5"><path d="M2205 1030 l30 35 l10 -8 l8 25 l-26 -3 l8 -8 l-30 -35z"/><path d="M3010 1040 l-40 42 l-8 -8 l-6 24 l26 -4 l-8 -8 l40 -42z"/></g>
<rect x="1723" y="1076" width="1107" height="34" fill="#a8d08c"/>
<text x="2277" y="1102" text-anchor="middle" font-family="Liberation Sans,sans-serif" font-weight="bold" font-size="30" fill="#2f4a1c" textLength="630" lengthAdjust="spacingAndGlyphs">Adaptive Textual Sharpness-Aware Evolving</text>
<rect x="1723" y="1110" width="1107" height="328" fill="#e7f0dc" stroke="#cfe0b8" stroke-width="2"/>
<g fill="none" stroke="#4e8a36" stroke-width="4" stroke-dasharray="16 9"><rect x="1736" y="1116" width="537" height="312" rx="40"/><rect x="2293" y="1116" width="531" height="312" rx="40"/></g>
<g font-family="Liberation Serif,serif" font-style="italic" font-weight="bold" fill="#111">
 <text x="2008" y="1145" text-anchor="middle" font-size="28">(I) Sensitivity estimation</text>
 <text x="2560" y="1145" text-anchor="middle" font-size="28">(II) Anisotropic distance and sampling</text>
 <text x="1747" y="1165" font-size="24">Current</text><text x="1750" y="1189" font-size="24">prompt</text>
 <text x="1915" y="1295" font-size="24">Sensitivity</text><text x="1918" y="1318" font-size="24">Estimator</text>
 <text x="2010" y="1352" font-size="24">Weight</text><text x="2010" y="1376" font-size="24">Matrix</text>
 <text x="1890" y="1400" font-size="24">Anisotropic</text><text x="1897" y="1424" font-size="24">Generator</text>
 <text x="2578" y="1203" font-size="24">Adaptive</text><text x="2590" y="1228" font-size="24">Radius</text>
 <text x="2450" y="1190" font-size="24" fill="#c0203a">Anisotropic</text><text x="2440" y="1213" font-size="24" fill="#c0203a">Neighborhood</text>
</g>
<use href="#doc" x="1763" y="1195" width="42" height="50"/><rect x="1760" y="1222" width="48" height="18" fill="#1ba0c8" stroke="#222" stroke-width="2"/>
<use href="#pb" x="1740" y="1273" width="95" height="34"/>
<use href="#rb" x="1845" y="1265" width="64" height="64"/>
<use href="#rb" x="1818" y="1360" width="64" height="64"/>
<polygon points="1840,1195 1990,1195 1990,1185 2010,1202 1990,1220 1990,1210 1840,1210" fill="#8fbf6a" opacity=".8"/>
<rect x="1853" y="1198" width="120" height="52" rx="10" fill="#a9d3f2"/>
<g font-family="Liberation Serif,serif" font-style="italic" font-weight="bold" font-size="13" text-anchor="middle"><text x="1913" y="1214">Analyzing each</text><text x="1913" y="1229">component's semantic</text><text x="1913" y="1244">role and sensitivity.</text></g>
<rect x="2028" y="1153" width="245" height="122" rx="16" fill="#ece2c8" stroke="#222" stroke-width="3.5"/>
<g font-family="Liberation Serif,serif" font-style="italic" font-weight="bold" font-size="14"><text x="2081" y="1171">Stylistic Elements:</text><text x="2081" y="1187">Low Sensitivity ★☆☆</text><text x="2070" y="1210">Methodological Guidance:</text><text x="2070" y="1226">Medium Sensitivity ★★☆</text><text x="2082" y="1249">Core Constraint:</text><text x="2082" y="1265">High Sensitivity ★★★</text></g>
<rect x="2045" y="1168" width="12" height="12" fill="#fff" stroke="#222" stroke-width="2.5"/><circle cx="2051" cy="1213" r="6" fill="#fff" stroke="#222" stroke-width="2.5"/><polygon points="2051,1245 2058,1258 2044,1258" fill="#fff" stroke="#222" stroke-width="2.5"/>
<rect x="2088" y="1318" width="152" height="100" fill="#cde3fb" stroke="#2d7ce8" stroke-width="8" stroke-dasharray="0 20 60 20 60 0"/>
<g fill="#2d7ce8"><rect x="2112" y="1335" width="12" height="12"/><rect x="2140" y="1335" width="12" height="12"/><rect x="2168" y="1335" width="12" height="12"/><rect x="2196" y="1335" width="12" height="12"/><rect x="2112" y="1362" width="12" height="12"/><rect x="2140" y="1362" width="12" height="12"/><rect x="2168" y="1362" width="12" height="12"/><rect x="2196" y="1362" width="12" height="12"/><rect x="2112" y="1389" width="12" height="12"/><rect x="2140" y="1389" width="12" height="12"/><rect x="2168" y="1389" width="12" height="12"/><rect x="2196" y="1389" width="12" height="12"/></g>
<ellipse cx="2565" cy="1285" rx="240" ry="138" fill="#f2f2ee" stroke="#c8c8c8" stroke-width="1.5"/>
<g fill="none" stroke="#d4d4d4" stroke-width="1"><ellipse cx="2565" cy="1285" rx="160" ry="138"/><ellipse cx="2565" cy="1285" rx="80" ry="138"/><ellipse cx="2565" cy="1285" rx="240" ry="80"/></g>
<line x1="2569" y1="1148" x2="2569" y2="1275" stroke="#333" stroke-width="2" stroke-dasharray="5 4"/>
<ellipse cx="2745" cy="1263" rx="40" ry="62" fill="#f9c9c9" stroke="#e07a2a" stroke-width="3" stroke-dasharray="10 6"/>
<circle cx="2724" cy="1242" r="8" fill="#f05a28"/><circle cx="2741" cy="1265" r="8" fill="#e53935"/><circle cx="2753" cy="1285" r="8" fill="#e53935"/>
<ellipse cx="2342" cy="1285" rx="26" ry="70" fill="#fbe8b0" stroke="#f3c84a" stroke-width="3"/>
<rect x="2334" y="1245" width="14" height="14" fill="#f7d27a" stroke="#d9a83a"/><rect x="2345" y="1280" width="14" height="14" fill="#f7d27a" stroke="#d9a83a"/><rect x="2350" y="1315" width="14" height="14" fill="#f6b72a" stroke="#d9a83a"/>
<use href="#pb" x="2529" y="1275" width="82" height="32"/>
<line x1="2611" y1="1285" x2="2700" y2="1240" stroke="#d01818" stroke-width="4"/>
<line x1="2529" y1="1294" x2="2370" y2="1296" stroke="#f3c84a" stroke-width="4"/>
<ellipse cx="2562" cy="1415" rx="40" ry="14" fill="none" stroke="#3a8a30" stroke-width="3" stroke-dasharray="10 6"/>
<g font-family="Liberation Serif,serif" font-style="italic" font-weight="bold" font-size="22"><text x="2445" y="1290">R₁</text><text x="2650" y="1298">R₂</text><text x="2580" y="1353">R₃</text><text x="2325" y="1423" fill="#c0203a">R₁ &gt; R₂ &gt; R₃</text></g>
<rect x="2856" y="1078" width="615" height="34" fill="#8da8d8"/>
<text x="3163" y="1104" text-anchor="middle" font-family="Liberation Sans,sans-serif" font-weight="bold" font-size="30" fill="#23406e" textLength="520" lengthAdjust="spacingAndGlyphs">Landscape-Aware Textual Optimizer</text>
<rect x="2856" y="1112" width="615" height="326" fill="#e6ecf6" stroke="#9fb6e0" stroke-width="3"/>
<rect x="2866" y="1117" width="169" height="321" rx="20" fill="#dce1e9" stroke="#9fb6e0" stroke-width="3"/>
<use href="#pb" x="2873" y="1138" width="93" height="34"/><use href="#pc" x="2873" y="1202" width="93" height="34"/>
<use href="#doc" x="2982" y="1132" width="40" height="46"/><use href="#doc" x="2982" y="1196" width="40" height="46"/>
<use href="#doc" x="2912" y="1262" width="54" height="70"/>
<rect x="2908" y="1350" width="70" height="72" rx="6" fill="#eef" stroke="#223" stroke-width="2.5"/><rect x="2932" y="1370" width="44" height="12" fill="#f3d063" stroke="#223"/><rect x="2915" y="1398" width="44" height="12" fill="#f3d063" stroke="#223"/>
<polygon points="3045,1135 3260,1170 3262,1160 3282,1182 3256,1195 3258,1185 3045,1150" fill="#3a5fc0" opacity=".85"/>
<polygon points="3110,1212 3268,1212 3268,1203 3285,1220 3268,1237 3268,1228 3110,1228" fill="#3a5fc0" opacity=".85"/>
<circle cx="3287" cy="1185" r="12" fill="#f7c948"/>
<line x1="3051" y1="1184" x2="3051" y2="1429" stroke="#000" stroke-width="5"/><line x1="3051" y1="1429" x2="3390" y2="1429" stroke="#000" stroke-width="5"/><polygon points="3390,1422 3402,1429 3390,1436"/><polygon points="3044,1184 3051,1172 3058,1184"/>
<ellipse cx="3091" cy="1295" rx="35" ry="78" fill="#e2e6dc" stroke="#e02020" stroke-width="4" stroke-dasharray="14 8"/>
<path d="M3064 1255 C3072 1300 3078 1358 3086 1358 C3096 1358 3100 1256 3112 1256 C3140 1260 3200 1416 3236 1416 C3280 1416 3340 1330 3386 1262" fill="none" stroke="#000" stroke-width="3"/>
<circle cx="3086" cy="1357" r="5" fill="#1f4fd8"/><circle cx="3110" cy="1257" r="5" fill="#1f4fd8"/>
<text x="3065" y="1388" font-family="Liberation Serif,serif" font-style="italic" font-size="22" fill="#2a6ad0">(p<tspan font-size="14">t</tspan>, ℒ(p<tspan font-size="14">t</tspan>))</text>
<text x="3130" y="1268" font-family="Liberation Serif,serif" font-style="italic" font-size="22" fill="#2a6ad0">(p*<tspan font-size="14">t,adv</tspan>, ℒ(p*<tspan font-size="14">t,adv</tspan>))</text>
<rect x="3313" y="1116" width="153" height="76" rx="14" fill="#a9d3f2"/>
<g font-family="Liberation Serif,serif" font-style="italic" font-weight="bold" font-size="15" text-anchor="middle"><text x="3390" y="1135">High sharpness</text><text x="3390" y="1153">alert! Seeking a</text><text x="3390" y="1171">more robust</text><text x="3390" y="1189">semantic basin.</text></g>
<use href="#rb" x="3295" y="1196" width="64" height="62"/>
<g font-family="Liberation Serif,serif" font-style="italic" font-weight="bold" font-size="25" fill="#111"><text x="3385" y="1245">LATO</text><text x="3385" y="1328">Loss</text><text x="3356" y="1353">Landscape</text></g>

<!-- ========== Experiments charts ========== -->
<rect x="4088" y="1193" width="328" height="325" fill="#eaf0fb"/>
<rect x="4434" y="1193" width="327" height="325" fill="#fdebef"/>
<g stroke="#e3e3e3" stroke-width="1" stroke-dasharray="3 3"><line x1="4055" y1="1236" x2="4796" y2="1236"/><line x1="4055" y1="1307" x2="4796" y2="1307"/><line x1="4055" y1="1377" x2="4796" y2="1377"/><line x1="4055" y1="1448" x2="4796" y2="1448"/></g>
<g id="bars"></g>
<line x1="4055" y1="1193" x2="4055" y2="1518" stroke="#222" stroke-width="2"/><line x1="4055" y1="1518" x2="4796" y2="1518" stroke="#222" stroke-width="2"/>
<rect x="4174" y="1179" width="501" height="28" fill="#fff" stroke="#ccc"/>
<g font-family="Liberation Sans,sans-serif" font-size="11" fill="#222"><rect x="4182" y="1189" width="18" height="7" fill="#a8e6cf"/><text x="4205" y="1197">Object Counting</text><rect x="4300" y="1189" width="18" height="7" fill="#c5e3a0"/><text x="4323" y="1197">Temporal Sequences</text><rect x="4440" y="1189" width="18" height="7" fill="#f4a4b4"/><text x="4462" y="1192">Tracking Shuffled</text><text x="4462" y="1204">Objects</text><rect x="4580" y="1189" width="18" height="7" fill="#f7d060"/><text x="4603" y="1197">GSM8K</text></g>
<text x="4252" y="1241" text-anchor="middle" font-family="Liberation Sans,sans-serif" font-style="italic" font-weight="bold" font-size="20" fill="#2a5fb0">TARE</text>
<text x="4597" y="1241" text-anchor="middle" font-family="Liberation Sans,sans-serif" font-style="italic" font-weight="bold" font-size="20" fill="#d62a5a">ATARE</text>
<g font-family="Liberation Sans,sans-serif" font-size="11" fill="#222" text-anchor="end"><text x="4050" y="1240">95</text><text x="4050" y="1311">90</text><text x="4050" y="1381">85</text><text x="4050" y="1452">80</text><text x="4050" y="1522">75</text></g>
<text transform="translate(4030 1356) rotate(-90)" text-anchor="middle" font-family="Liberation Sans,sans-serif" font-weight="bold" font-size="16">Performance (%)</text>
<g font-family="Liberation Sans,sans-serif" font-size="10.5" fill="#222" text-anchor="middle">
 <text x="4122" y="1531">Full Method</text><text x="4208" y="1531">w/o Adversarial</text><text x="4208" y="1543">Search</text><text x="4295" y="1531">w/o LATO</text><text x="4381" y="1531">w/o Robust</text><text x="4381" y="1543">Validation</text>
 <text x="4467" y="1531">Full Method</text><text x="4554" y="1531">w/o Adversarial</text><text x="4554" y="1543">Search</text><text x="4640" y="1531">w/o LATO</text><text x="4727" y="1531">w/o Robust</text><text x="4727" y="1543">Validation</text>
</g>
<text x="4425" y="1558" text-anchor="middle" font-family="Liberation Sans,sans-serif" font-weight="bold" font-size="17">Ablation Conditions</text>
<g id="small"></g>
<g font-family="Liberation Serif,serif" font-size="24" fill="#111" text-anchor="middle">
 <text x="4020" y="1765">(a) Object Counting</text><text x="4284" y="1765">(b) Temporal Sequences</text><text x="4550" y="1765">(c) Tracking Shuffled Objects</text><text x="4814" y="1765">(d) GSM8K</text>
 <text x="4033" y="2013">(a) TARE vs. <tspan font-style="italic">K<tspan font-size="16">t</tspan></tspan></text><text x="4298" y="2013">(b) TARE vs. <tspan font-style="italic">K̃</tspan></text><text x="4563" y="2013">(c) ATARE vs. <tspan font-style="italic">K<tspan font-size="16">t</tspan></tspan></text><text x="4828" y="2013">(d) ATARE vs. <tspan font-style="italic">K̃</tspan></text>
</g>
<g id="lines"></g>

<!-- Contact -->
<g font-family="Liberation Serif,serif" font-weight="bold" font-size="50" fill="#000" text-anchor="middle"><text x="4004" y="2187">Homepage</text><text x="4409" y="2187">WeChat</text><text x="4801" y="2187">Code Repo</text></g>
<g id="qr"></g>
</svg>

<div class="a bg" style="left:0;top:0">
 <div class="ln arr" style="left:68px;top:526px;font-size:54px">➢</div>
 <div class="ln arr" style="left:68px;top:838px;font-size:54px">➢</div>
 <div class="ln arr" style="left:68px;top:1306px;font-size:54px">➢</div>
 <div class="ln" style="left:123px;top:526px">Prevailing prompt</div>
 <div class="ln" style="left:123px;top:604px">optimization methods</div>
 <div class="ln" style="left:123px;top:682px">primarily target point-</div>
 <div class="ln" style="left:123px;top:760px">wise accuracy.</div>
 <div class="ln" style="left:123px;top:838px">Automated prompt</div>
 <div class="ln" style="left:123px;top:916px">search remains brittle:</div>
 <div class="ln" style="left:123px;top:994px">small, semantically-</div>
 <div class="ln" style="left:123px;top:1072px">preserving paraphrases</div>
 <div class="ln" style="left:123px;top:1150px">often cause large</div>
 <div class="ln" style="left:123px;top:1228px">performance swings.</div>
 <div class="ln" style="left:123px;top:1306px">This fragility limits the</div>
 <div class="ln" style="left:123px;top:1384px">robustness of LLM-</div>
 <div class="ln" style="left:123px;top:1462px">based systems.</div>
</div>

<div class="a mo" style="left:0;top:0">
 <div class="ln arr" style="left:68px;top:1721px;font-size:52px">➢</div>
 <div class="ln" style="left:123px;top:1721px">Existing prompt engineering methods fail to address this,</div>
 <div class="ln" style="left:123px;top:1798px">leading to our core research questions:</div>
</div>
<div class="a q" style="left:0;top:0">
 <div class="ln" style="left:82px;top:1912px;font-size:46px;font-style:normal">●</div>
 <div class="ln" style="left:163px;top:1912px">How can we <b>formally define and quantify a</b></div>
 <div class="ln" style="left:163px;top:1991px"><b>"sharpness neighborhood"</b> within the discrete,</div>
 <div class="ln" style="left:163px;top:2069px">semantic space of textual prompts?</div>
 <div class="ln" style="left:78px;top:2170px;font-size:46px;font-style:normal">●</div>
 <div class="ln" style="left:158px;top:2170px">How can we design a <b>practical optimization</b></div>
 <div class="ln" style="left:158px;top:2248px"><b>algorithm</b> that navigates this discrete landscape to</div>
 <div class="ln" style="left:158px;top:2327px">discover prompts that are <b>both effective and</b></div>
 <div class="ln" style="left:158px;top:2405px"><b>robust</b> to semantic perturbations?</div>
</div>

<div class="a me" style="left:0;top:0">
 <div class="ln arr" style="left:1688px;top:1458px;font-size:46px;color:#c00000">➢</div>
 <div class="ln" style="left:1740px;top:1458px"><span class="red">Textual Sharpness-Aware Evolving(TARE)<i>:</i></span> An iterative framework that</div>
 <div class="ln" style="left:1740px;top:1535px">alternates between three steps: an (I) Inner Adversarial Search to find the</div>
 <div class="ln" style="left:1740px;top:1613px">worst-performing paraphrase ("worst-case neighbor"), a (II) Feedback</div>
 <div class="ln" style="left:1740px;top:1691px">Generation step where an evaluator provides feedback on the failure, and</div>
 <div class="ln" style="left:1740px;top:1769px">an (III) Outer Robustness Update that selects a new prompt robust against</div>
 <div class="ln" style="left:1740px;top:1847px">this failure.</div>
 <div class="a" style="left:2428px;top:1884px;font-size:52px;line-height:52px">min</div>
 <div class="a" style="left:2632px;top:1884px;font-size:52px;line-height:52px">max</div>
 <div class="a" style="left:2849px;top:1884px;font-size:52px;line-height:52px;font-style:italic">ℒ(p′)</div>
 <div class="a" style="left:2430px;top:1940px;font-size:36px;line-height:36px;font-style:italic">p∈𝒫</div>
 <div class="a" style="left:2594px;top:1940px;font-size:36px;line-height:36px;font-style:italic">p′∈B(p,ρ<span style="font-size:24px;font-style:normal">text</span>)</div>
 <div class="ln arr" style="left:1690px;top:2013px;font-size:46px;color:#c00000">➢</div>
 <div class="ln" style="left:1745px;top:2013px"><span class="red">Adaptive Textual Sharpness-Aware Evolving(ATARE)<i>:</i></span> An adaptive</div>
 <div class="ln" style="left:1745px;top:2091px">version that applies fine-grained edits to sensitive components while</div>
 <div class="ln" style="left:1745px;top:2169px">broadly exploring robust components.</div>
 <div class="ln arr" style="left:1688px;top:2261px;font-size:46px;color:#c00000">➢</div>
 <div class="ln" style="left:1740px;top:2261px"><span class="red">Landscape-Aware Textual Optimizer(LATO)<i>:</i></span> An optimizer that</div>
 <div class="ln" style="left:1740px;top:2339px">perceives the local "sharpness" and steers the update towards a flatter, more</div>
 <div class="ln" style="left:1740px;top:2417px">stable solution.</div>
</div>

<table class="t">
<colgroup><col style="width:127px"><col style="width:152px"><col span="10" style="width:84.4px"></colgroup>
<thead>
<tr><th rowspan="2" class="b" style="font-weight:bold;border-right:1px solid #777">Dataset</th><th rowspan="2" style="font-weight:bold;border-right:4px double #333">Model</th><th colspan="5">BACKBONE: GPT-4o</th><th colspan="5" class="c1">BACKBONE: Claude 3.5 Sonnet</th></tr>
<tr><th>COT</th><th>TEXTGRAD</th><th>REVOLVE</th><th>TARE</th><th>ATARE</th><th class="c1">COT</th><th>TEXTGRAD</th><th>REVOLVE</th><th>TARE</th><th>ATARE</th></tr>
</thead>
<tbody>
<tr><td rowspan="5" class="ds">Object<br>Counting</td><td class="m">GPT-3.5</td><td class="v">77.9<i class="d">↓10.1</i></td><td class="v">88.0</td><td class="v">89.8<i class="u">↑1.8</i></td><td class="v">90.2<i class="u">↑2.2</i></td><td class="v b">91.0<i class="u">↑3.0</i></td><td class="v c1">77.9<i class="d">↓5.4</i></td><td class="v">83.3</td><td class="v">87.5<i class="u">↑4.2</i></td><td class="v b">90.4<i class="u">↑7.1</i></td><td class="v">88.0<i class="u">↑4.7</i></td></tr>
<tr><td class="m">Gemini 1.5 Flash 8B</td><td class="v">82.0<i class="d">↓1.3</i></td><td class="v">83.3</td><td class="v">83.5<i class="u">↑0.2</i></td><td class="v">84.7<i class="u">↑1.4</i></td><td class="v b">85.7<i class="u">↑2.4</i></td><td class="v c1">82.0<i class="d">↓6.5</i></td><td class="v">88.5</td><td class="v">90.0<i class="u">↑1.5</i></td><td class="v b">94.4<i class="u">↑5.9</i></td><td class="v">91.0<i class="u">↑2.5</i></td></tr>
<tr><td class="m">Gemini 1.5 Pro</td><td class="v">94.0<i class="u">↑0.0</i></td><td class="v">94.0</td><td class="v">94.0<i class="u">↑0.0</i></td><td class="v b">97.3<i class="u">↑3.3</i></td><td class="v b">97.3<i class="u">↑3.3</i></td><td class="v c1">94.0<i class="d">↓3.0</i></td><td class="v">97.0</td><td class="v">97.7<i class="u">↑0.7</i></td><td class="v">98.0<i class="u">↑1.0</i></td><td class="v b">98.3<i class="u">↑1.3</i></td></tr>
<tr><td class="m">Llama 3.1 8B Instruct</td><td class="v">86.0<i class="d">↓2.6</i></td><td class="v">88.6</td><td class="v">88.2<i class="d">↓0.4</i></td><td class="v">91.0<i class="u">↑2.4</i></td><td class="v b">92.4<i class="u">↑3.8</i></td><td class="v c1">86.0<i class="d">↓3.5</i></td><td class="v">89.5</td><td class="v">88.0<i class="d">↓1.5</i></td><td class="v">90.6<i class="u">↑1.1</i></td><td class="v b">93.5<i class="u">↑4.0</i></td></tr>
<tr><td class="m">Llama 3 8B Instruct</td><td class="v">80.0<i class="d">↓5.8</i></td><td class="v">85.8</td><td class="v">86.8<i class="u">↑1.0</i></td><td class="v">88.7<i class="u">↑2.9</i></td><td class="v b">90.3<i class="u">↑4.5</i></td><td class="v c1">80.0<i class="d">↓2.0</i></td><td class="v">82.0</td><td class="v">84.3<i class="u">↑2.3</i></td><td class="v">89.5<i class="u">↑7.5</i></td><td class="v b">93.6<i class="u">↑11.6</i></td></tr>
<tr class="g"><td rowspan="5" class="ds">Temporal<br>Sequences</td><td class="m">GPT-3.5</td><td class="v">79.0<i class="d">↓2.0</i></td><td class="v">81.0</td><td class="v">84.0<i class="u">↑3.0</i></td><td class="v">87.5<i class="u">↑6.5</i></td><td class="v b">88.0<i class="u">↑7.0</i></td><td class="v c1">79.0<i class="d">↓7.7</i></td><td class="v">86.7</td><td class="v">84.4<i class="d">↓2.3</i></td><td class="v">88.0<i class="u">↑1.3</i></td><td class="v b">89.0<i class="u">↑2.3</i></td></tr>
<tr><td class="m">Gemini 1.5 Flash 8B</td><td class="v">92.0<i class="d">↓0.5</i></td><td class="v">92.5</td><td class="v">93.0<i class="u">↑0.5</i></td><td class="v">94.3<i class="u">↑1.8</i></td><td class="v b">95.2<i class="u">↑2.7</i></td><td class="v c1">92.0<i class="d">↓2.0</i></td><td class="v">94.0</td><td class="v">94.7<i class="u">↑0.7</i></td><td class="v">95.3<i class="u">↑1.3</i></td><td class="v b">95.7<i class="u">↑1.7</i></td></tr>
<tr><td class="m">Gemini 1.5 Pro</td><td class="v">96.0<i class="d">↓1.7</i></td><td class="v">97.7</td><td class="v">97.7<i class="u">↑0.0</i></td><td class="v b">98.0<i class="u">↑0.3</i></td><td class="v b">98.0<i class="u">↑0.3</i></td><td class="v c1">96.0<i class="d">↓1.0</i></td><td class="v">97.0</td><td class="v">98.0<i class="u">↑1.0</i></td><td class="v">98.5<i class="u">↑1.5</i></td><td class="v b">98.8<i class="u">↑1.8</i></td></tr>
<tr><td class="m">Llama 3.1 8B Instruct</td><td class="v">86.0<i class="d">↓2.3</i></td><td class="v">88.3</td><td class="v">88.3<i class="u">↑0.0</i></td><td class="v">90.0<i class="u">↑1.7</i></td><td class="v b">91.0<i class="u">↑2.7</i></td><td class="v c1">86.0<i class="d">↓7.0</i></td><td class="v">93.0</td><td class="v">89.6<i class="d">↓3.4</i></td><td class="v">93.7<i class="u">↑0.7</i></td><td class="v b">94.3<i class="u">↑1.3</i></td></tr>
<tr><td class="m">Llama 3 8B Instruct</td><td class="v">84.0<i class="u">↑0.0</i></td><td class="v">84.0</td><td class="v">84.5<i class="u">↑0.5</i></td><td class="v">85.0<i class="u">↑1.0</i></td><td class="v b">88.7<i class="u">↑4.7</i></td><td class="v c1">84.0<i class="d">↓7.5</i></td><td class="v">91.5</td><td class="v">89.2<i class="d">↓2.3</i></td><td class="v b">94.0<i class="u">↑2.5</i></td><td class="v b">94.0<i class="u">↑2.5</i></td></tr>
<tr class="g"><td rowspan="5" class="ds">Tracking<br>Shuffled Objects</td><td class="m">GPT-3.5</td><td class="v">62.0<i class="d">↓4.3</i></td><td class="v">66.3</td><td class="v">65.7<i class="d">↓0.6</i></td><td class="v b">72.0<i class="u">↑5.7</i></td><td class="v">69.0<i class="u">↑2.7</i></td><td class="v c1">62.0<i class="d">↓13.0</i></td><td class="v">75.0</td><td class="v">72.2<i class="d">↓2.8</i></td><td class="v b">77.0<i class="u">↑2.0</i></td><td class="v b">77.0<i class="u">↑2.0</i></td></tr>
<tr><td class="m">Gemini 1.5 Flash 8B</td><td class="v">82.0<i class="d">↓1.0</i></td><td class="v">83.0</td><td class="v">82.5<i class="d">↓0.5</i></td><td class="v">88.6<i class="u">↑5.6</i></td><td class="v b">93.7<i class="u">↑10.7</i></td><td class="v c1">82.0<i class="d">↓5.3</i></td><td class="v">87.3</td><td class="v">89.8<i class="u">↑2.5</i></td><td class="v">91.3<i class="u">↑4.0</i></td><td class="v b">94.0<i class="u">↑6.7</i></td></tr>
<tr><td class="m">Gemini 1.5 Pro</td><td class="v">99.0<i class="u">↑0.0</i></td><td class="v">99.0</td><td class="v">99.0<i class="u">↑0.0</i></td><td class="v">99.0<i class="u">↑0.0</i></td><td class="v">99.0<i class="u">↑0.0</i></td><td class="v c1">99.0<i class="d">↓0.0</i></td><td class="v">99.0</td><td class="v">99.0<i class="u">↑0.0</i></td><td class="v">99.0<i class="u">↑0.0</i></td><td class="v">99.0<i class="u">↑0.0</i></td></tr>
<tr><td class="m">Llama 3.1 8B Instruct</td><td class="v">82.0<i class="d">↓4.3</i></td><td class="v">86.3</td><td class="v">83.7<i class="d">↓2.6</i></td><td class="v">90.0<i class="u">↑3.7</i></td><td class="v b">93.5<i class="u">↑7.2</i></td><td class="v c1">82.0<i class="u">↑0.8</i></td><td class="v">81.2</td><td class="v">79.2<i class="d">↓2.0</i></td><td class="v">91.2<i class="u">↑10.0</i></td><td class="v b">93.0<i class="u">↑11.8</i></td></tr>
<tr><td class="m">Llama 3 8B Instruct</td><td class="v">50.0<i class="d">↓5.5</i></td><td class="v">55.5</td><td class="v">52.7<i class="d">↓2.8</i></td><td class="v">57.5<i class="u">↑2.0</i></td><td class="v b">67.7<i class="u">↑12.2</i></td><td class="v c1">50.0<i class="d">↓14.5</i></td><td class="v">64.5</td><td class="v">66.8<i class="u">↑2.3</i></td><td class="v">72.3<i class="u">↑7.8</i></td><td class="v b">78.5<i class="u">↑14.0</i></td></tr>
<tr class="g"><td rowspan="5" class="ds">GSM8K</td><td class="m">GPT-3.5</td><td class="v">72.9<i class="d">↓8.0</i></td><td class="v">80.9</td><td class="v">82.1<i class="u">↑1.2</i></td><td class="v b">83.0<i class="u">↑2.1</i></td><td class="v">82.3<i class="u">↑1.4</i></td><td class="v c1">72.9<i class="d">↓8.2</i></td><td class="v">81.1</td><td class="v">80.1<i class="d">↓1.0</i></td><td class="v b">83.7<i class="u">↑2.6</i></td><td class="v b">83.7<i class="u">↑2.6</i></td></tr>
<tr><td class="m">Gemini 1.5 Flash 8B</td><td class="v">88.6<i class="d">↓1.0</i></td><td class="v">89.6</td><td class="v">89.4<i class="d">↓0.2</i></td><td class="v b">90.1<i class="u">↑0.5</i></td><td class="v">89.7<i class="u">↑0.1</i></td><td class="v c1">88.6<i class="d">↓0.1</i></td><td class="v">88.7</td><td class="v">88.9<i class="u">↑0.2</i></td><td class="v">89.6<i class="u">↑0.9</i></td><td class="v b">89.7<i class="u">↑1.0</i></td></tr>
<tr><td class="m">Gemini 1.5 Pro</td><td class="v">92.9<i class="d">↓0.4</i></td><td class="v">93.3</td><td class="v">93.0<i class="d">↓0.3</i></td><td class="v b">95.5<i class="u">↑2.2</i></td><td class="v">94.7<i class="u">↑1.4</i></td><td class="v c1">92.9<i class="d">↓2.4</i></td><td class="v">95.3</td><td class="v">95.3<i class="u">↑0.0</i></td><td class="v b">96.1<i class="u">↑0.8</i></td><td class="v">95.5<i class="u">↑0.2</i></td></tr>
<tr><td class="m">Llama 3.1 8B Instruct</td><td class="v">84.9<i class="u">↑0.0</i></td><td class="v">84.9</td><td class="v">84.9<i class="u">↑0.0</i></td><td class="v">86.2<i class="u">↑1.3</i></td><td class="v b">86.4<i class="u">↑1.5</i></td><td class="v c1">84.9<i class="d">↓1.3</i></td><td class="v">86.2</td><td class="v">86.4<i class="u">↑0.2</i></td><td class="v">86.9<i class="u">↑0.7</i></td><td class="v b">87.7<i class="u">↑1.5</i></td></tr>
<tr class="last"><td class="m">Llama 3 8B Instruct</td><td class="v">81.8<i class="u">↑0.0</i></td><td class="v">81.8</td><td class="v">81.8<i class="u">↑0.0</i></td><td class="v">81.8<i class="u">↑0.0</i></td><td class="v">81.8<i class="u">↑0.0</i></td><td class="v c1">81.8<i class="u">↑0.0</i></td><td class="v">81.8</td><td class="v">81.8<i class="u">↑0.0</i></td><td class="v">81.8<i class="u">↑0.0</i></td><td class="v">81.8<i class="u">↑0.0</i></td></tr>
</tbody></table>

<script>
(function(){
var NS='http://www.w3.org/2000/svg';
function el(t,a,p,tx){var e=document.createElementNS(NS,t);for(var k in a)e.setAttribute(k,a[k]);if(tx!==undefined)e.textContent=tx;if(p)p.appendChild(e);return e;}
var gb=document.getElementById('bars');
var cols=['#a8e6cf','#c5e3a0','#f4a4b4','#f7d060'];
var cx=[4122,4208,4295,4381,4467,4554,4640,4727];
var data=[[91,90,90,86.2],[89,87,87.5,85.5],[86.5,83.3,89,79.8],[89,85.5,87.5,85.6],[92.4,91,93.5,86.4],[89,82.7,78.5,85.1],[88.5,81,76,85.2],[87.7,90,85.3,86.4]];
data.forEach(function(g,i){g.forEach(function(v,j){var y=1518-(v-75)*14.1;el('rect',{x:cx[i]-24+j*12,y:y,width:11,height:1518-y,fill:cols[j]},gb);});});
var gs=document.getElementById('small');
var px=[3920,4187,4451,4717];
var sd=[[91,88,88.2,92.5,87.3,89.2],[90.2,89.3,85.2,91.3,87.8,90.8],[90,89,79,93.8,86,72],[86.3,86,85.8,86.5,86.5,86.5]];
var lab=['TARE','TARE','TARE','ATARE','ATARE','ATARE'],lab2=['Standard','Degrade Gen','Degrade Opt','Standard','Degrade Gen','Degrade Opt'];
px.forEach(function(x0,p){
 el('rect',{x:x0,y:1571,width:222,height:133,fill:'#ececec'},gs);
 ['100','90','80','70','60'].forEach(function(t,k){el('text',{x:x0-4,y:1574+k*33.25,'font-size':8,'text-anchor':'end','font-family':'Liberation Serif,serif'},gs,t);});
 el('text',{transform:'translate('+(x0-16)+' 1637) rotate(-90)','font-size':9,'text-anchor':'middle','font-family':'Liberation Serif,serif'},gs,'Performance (%)');
 sd[p].forEach(function(v,i){var y=1704-(v-60)*3.325;var bx=x0+4+i*36.5;
  el('rect',{x:bx,y:y,width:27,height:1704-y,fill:i<3?'#6d8fbf':'#f0a3a3',stroke:'#333','stroke-width':1},gs);
  if(i%3)el('rect',{x:bx,y:y,width:27,height:1704-y,fill:'url(#hat)',opacity:0.6},gs);
  el('text',{x:bx+13,y:1712,'font-size':6.5,'text-anchor':'middle','font-family':'Liberation Serif,serif'},gs,lab[i]);
  el('text',{x:bx+13,y:1720,'font-size':6.5,'text-anchor':'middle','font-family':'Liberation Serif,serif'},gs,lab2[i]);});
 el('text',{x:x0+111,y:1732,'font-size':10,'text-anchor':'middle','font-family':'Liberation Serif,serif'},gs,'Oracle Configuration');
});
var gl=document.getElementById('lines');
var lx=[3932,4197,4462,4727];
var lc=['#2ca02c','#1f77b4','#d62728','#ff7f0e'];
var ld=[
[[88.5,89.5,91,91,90.5,90.3,91.5,90],[86,86,90,90,86,91,90,86],[85,87.5,90,88,93,87.5,89,88],[86,86.5,86,85.5,85.8,86,86.8,87.5]],
[[89,91,91,91,90.8,91.5,92.8,91.3],[86,86,90,86,87.3,86,86,89],[88.8,89,90,91,90.5,89.5,88.2,91],[87.5,86,86.2,86.3,87.5,86.8,86.8,87.3]],
[[92,91.5,92.5,92.2,89,94.5,92,92],[86,86,91,89,93,88,87,91.5],[84.5,85,93.5,91,93.5,92.5,91,93],[86,86.2,86.3,87.5,85.5,86.2,87.3,86]],
[[90.5,91,93,91,91,94,95.5,92],[86,86,91,86,87,88,87,86],[87,91,93.5,92.5,92,92,91,90.5],[85.5,86,86.5,86.3,86.3,86.8,87.3,85.8]]];
var xl=['Budget Size (Kₜ)','Budget Size (K̃)','Budget Size (Kₜ)','Budget Size (K̃)'];
lx.forEach(function(x0,p){
 el('rect',{x:x0,y:1801,width:202,height:147,fill:'#fff',stroke:'#999'},gl);
 [90,80].forEach(function(v){var y=1948-(v-70)*4.9;el('line',{x1:x0,y1:y,x2:x0+202,y2:y,stroke:'#e4e4e4'},gl);});
 [100,90,80,70].forEach(function(v){el('text',{x:x0-4,y:1948-(v-70)*4.9+6,'font-size':16,'text-anchor':'end','font-family':'Liberation Sans,sans-serif'},gl,String(v));});
 for(var k=1;k<=8;k++){el('text',{x:x0+10+(k-1)*26.3,y:1968,'font-size':15,'text-anchor':'middle','font-family':'Liberation Sans,sans-serif'},gl,String(k));}
 el('text',{x:x0+101,y:1990,'font-size':16,'text-anchor':'middle','font-family':'Liberation Sans,sans-serif'},gl,xl[p]);
 el('text',{transform:'translate('+(x0-28)+' 1875) rotate(-90)','font-size':15,'text-anchor':'middle','font-family':'Liberation Sans,sans-serif'},gl,'Performance (%)');
 ld[p].forEach(function(s,si){var pts=s.map(function(v,k){return (x0+10+k*26.3)+','+(1948-(v-70)*4.9);}).join(' ');
  el('polyline',{points:pts,fill:'none',stroke:lc[si],'stroke-width':2.2},gl);
  s.forEach(function(v,k){el('circle',{cx:x0+10+k*26.3,cy:1948-(v-70)*4.9,r:2.5,fill:lc[si]},gl);});});
 el('rect',{x:x0+6,y:1888,width:78,height:54,fill:'#fff',stroke:'#ddd'},gl);
 el('text',{x:x0+45,y:1896,'font-size':7,'text-anchor':'middle','font-family':'Liberation Sans,sans-serif'},gl,'Dataset');
 ['Object Counting','Temporal Sequences','Tracking Shuffled','GSM8K'].forEach(function(t,i){el('line',{x1:x0+9,y1:1904+i*10,x2:x0+20,y2:1904+i*10,stroke:lc[i],'stroke-width':1.5},gl);el('text',{x:x0+23,y:1906+i*10,'font-size':6.5,'font-family':'Liberation Sans,sans-serif'},gl,t);});
});
var gq=document.getElementById('qr');
var seed=12345;function rnd(){seed=(seed*16807)%2147483647;return seed/2147483647;}
function qr(x,y,w,h,mode){
 var n=29,cw=w/n,ch=h/n;
 for(var i=0;i<n;i++)for(var j=0;j<n;j++){
  var inF=(i<8&&j<8)||(i<8&&j>n-9)||(i>n-9&&j<8);
  var inC=i>10&&i<18&&j>10&&j<18;
  if(inF||inC)continue;
  if(rnd()<0.5){
   if(mode==2)el('rect',{x:x+j*cw+0.5,y:y+i*ch+0.5,width:cw-1,height:ch-1,fill:'url(#wg)'},gq);
   else el('ellipse',{cx:x+j*cw+cw/2,cy:y+i*ch+ch/2,rx:cw*0.42,ry:ch*0.45,fill:'#000'},gq);
  }}
 [[0,0],[0,n-7],[n-7,0]].forEach(function(f){var fx=x+f[1]*cw,fy=y+f[0]*ch;
  var c=mode==2?(f[1]>0?'#9b59b6':(f[0]>0?'#d9534f':'#b85c8e')):'#000';
  el('rect',{x:fx+cw*2,y:fy+ch*2,width:cw*3,height:ch*3,rx:cw*(mode==2?0.2:1.2),fill:c},gq);
  el('rect',{x:fx+cw*0.5,y:fy+ch*0.5,width:cw*6,height:ch*6,rx:cw*1.5,fill:'none',stroke:c,'stroke-width':cw},gq);});
 var mx=x+w/2,my=y+h/2;
 if(mode==2){el('rect',{x:mx-cw*3.3,y:my-ch*3.3,width:cw*6.6,height:ch*6.6,rx:cw,fill:'#b0508a'},gq);el('ellipse',{cx:mx-5,cy:my-3,rx:12,ry:10,fill:'#fff'},gq);el('ellipse',{cx:mx+7,cy:my+6,rx:10,ry:8,fill:'#fff'},gq);}
 else{el('path',{d:'M'+(mx-20)+' '+(my+25)+' l0 -20 l10 -5 l0 -15 l20 0 l0 10 l-8 0 l0 8 l-4 0 l0 22 l-4 0 l0 -8 l-6 0 l0 8z',fill:'#000'},gq);}
}
qr(3876,2205,269,272,1);qr(4288,2204,279,280,2);qr(4673,2200,282,281,1);
})();
</script>
</body></html>
